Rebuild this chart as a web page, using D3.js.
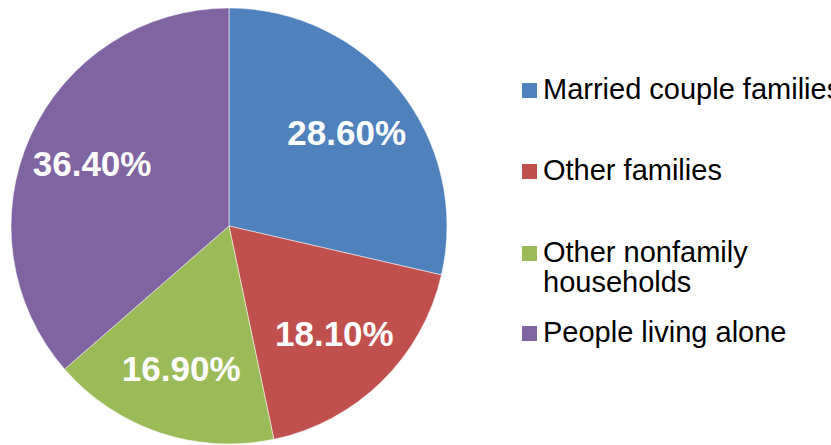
<!DOCTYPE html>
<html>
<head>
<meta charset="utf-8">
<script src="https://cdn.jsdelivr.net/npm/d3@7"></script>
<style>
  html, body { margin: 0; padding: 0; background: #fff; overflow: hidden; }
  svg { display: block; font-family: "Liberation Sans", Arial, sans-serif; }
</style>
</head>
<body>
<svg id="pie" width="831" height="445"></svg>
<script>
// data
const categories = ["Married couple families", "Other families", "Other nonfamily households", "People living alone"];
const legendLines = [["Married couple families"], ["Other families"], ["Other nonfamily", "households"], ["People living alone"]];
const shares = [28.6, 18.1, 16.9, 36.4];
const colours = ["#4F81BD", "#C0504D", "#9BBB59", "#8064A2"];

const svg = d3.select("svg#pie");
const cx = 229, cy = 226, radius = 218;

const pieData = categories.map((c, i) => ({name: c, value: shares[i]}));

const pie = d3.pie().sort(null).value(d => d.value);
const arcs = pie(pieData);

const arcGen = d3.arc().innerRadius(0).outerRadius(radius);
const labelArc = d3.arc().innerRadius(radius * 0.69).outerRadius(radius * 0.69);

const colour = d3.scaleOrdinal().domain(categories).range(colours);

let chartArea = svg.append("g")
    .attr("transform", `translate(${cx},${cy})`);

chartArea.selectAll("path").data(arcs)
    .join("path")
    .attr("d", arcGen)
    .attr("fill", d => colour(d.data.name))
    .attr("stroke", "#ffffff")
    .attr("stroke-opacity", 0.5)
    .attr("stroke-width", 1);

chartArea.selectAll("text.pct").data(arcs)
    .join("text")
    .attr("class", "pct")
    .attr("transform", d => `translate(${labelArc.centroid(d)})`)
    .attr("text-anchor", "middle")
    .attr("dy", "0.36em")
    .attr("fill", "#ffffff")
    .attr("font-size", 35)
    .attr("font-weight", "bold")
    .text(d => d.data.value.toFixed(2) + "%");

// legend
const legendX = 522;
const legendBase = [99, 180, 262, 342];
const lineHeight = 30;

let legend = svg.append("g").attr("id", "legend");
let items = legend.selectAll("g").data(categories)
    .join("g")
    .attr("transform", (d, i) => `translate(${legendX},${legendBase[i]})`);

items.append("rect")
    .attr("x", 0)
    .attr("y", -16)
    .attr("width", 15)
    .attr("height", 15)
    .attr("fill", d => colour(d));

items.append("text")
    .attr("x", 21)
    .attr("y", 0)
    .attr("font-size", 29)
    .attr("fill", "#000")
    .selectAll("tspan")
    .data((d, i) => legendLines[i])
    .join("tspan")
    .attr("x", 21)
    .attr("dy", (d, j) => j === 0 ? 0 : lineHeight)
    .text(d => d);
</script>
</body>
</html>
